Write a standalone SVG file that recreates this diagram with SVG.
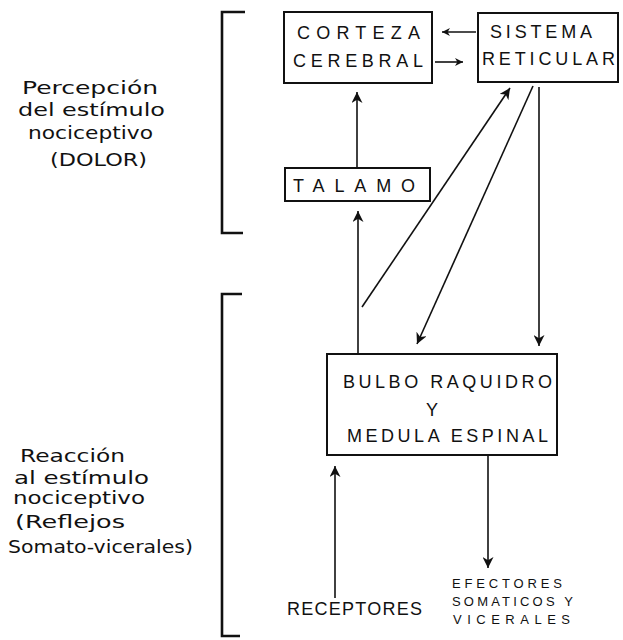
<svg xmlns="http://www.w3.org/2000/svg" width="623" height="640" viewBox="0 0 623 640">
<style>
  .box { fill: #fff; stroke: #111; stroke-width: 2; }
  .lbl { font-family: "Liberation Sans", "DejaVu Sans", sans-serif; font-size: 18px; fill: #111; }
  .side { font-family: "DejaVu Sans", "Liberation Sans", sans-serif; font-size: 17px; fill: #111; }
  .eff { font-family: "Liberation Sans", "DejaVu Sans", sans-serif; font-size: 13px; fill: #111; }
  .ln { stroke: #111; stroke-width: 1.6; fill: none; }
  .br { stroke: #111; stroke-width: 2.6; fill: none; }
</style>
<defs>
  <marker id="ah" viewBox="0 0 10 10" refX="10" refY="5" markerUnits="userSpaceOnUse" markerWidth="11" markerHeight="11" orient="auto">
    <path d="M0,0 L10,5 L0,10 L3,5 z" fill="#111"/>
  </marker>
  <marker id="ahs" viewBox="0 0 10 10" refX="10" refY="5" markerUnits="userSpaceOnUse" markerWidth="8" markerHeight="8" orient="auto">
    <path d="M0,0 L10,5 L0,10 L3,5 z" fill="#111"/>
  </marker>
</defs>

<g id="brackets">
  <path class="br" d="M245,12 H222 V233 H243"/>
  <path class="br" d="M242,294 H222 V636 H240"/>
</g>

<g id="side-labels">
  <text class="side" x="22" y="94" textLength="136" lengthAdjust="spacingAndGlyphs">Percepción</text>
  <text class="side" x="18" y="116" textLength="147" lengthAdjust="spacingAndGlyphs">del estímulo</text>
  <text class="side" x="28" y="139" textLength="125" lengthAdjust="spacingAndGlyphs">nociceptivo</text>
  <text class="side" x="50" y="166" textLength="97" lengthAdjust="spacingAndGlyphs">(DOLOR)</text>

  <text class="side" x="20" y="462" textLength="105" lengthAdjust="spacingAndGlyphs">Reacción</text>
  <text class="side" x="14" y="484" textLength="135" lengthAdjust="spacingAndGlyphs">al estímulo</text>
  <text class="side" x="13" y="504" textLength="132" lengthAdjust="spacingAndGlyphs">nociceptivo</text>
  <text class="side" x="15" y="528" textLength="110" lengthAdjust="spacingAndGlyphs">(Reflejos</text>
  <text class="side" x="8" y="553" textLength="185" lengthAdjust="spacingAndGlyphs">Somato-vicerales)</text>
</g>

<g id="corteza">
  <rect class="box" x="284" y="12" width="148" height="71"/>
  <text class="lbl" x="297" y="39" textLength="123" lengthAdjust="spacing">CORTEZA</text>
  <text class="lbl" x="293" y="67" textLength="130" lengthAdjust="spacing">CEREBRAL</text>
</g>

<g id="sistema">
  <rect class="box" x="478" y="13" width="140" height="69"/>
  <text class="lbl" x="490" y="38" textLength="102" lengthAdjust="spacing">SISTEMA</text>
  <text class="lbl" x="482" y="65" textLength="133" lengthAdjust="spacing">RETICULAR</text>
</g>

<g id="talamo">
  <rect class="box" x="285" y="168" width="145" height="33"/>
  <text class="lbl" x="293" y="192" textLength="122" lengthAdjust="spacing">TALAMO</text>
</g>

<g id="bulbo">
  <rect class="box" x="327" y="354" width="230" height="101"/>
  <text class="lbl" x="343" y="388" font-size="20" textLength="209" lengthAdjust="spacing">BULBO RAQUIDRO</text>
  <text class="lbl" x="432" y="416" text-anchor="middle">Y</text>
  <text class="lbl" x="347" y="442" textLength="201" lengthAdjust="spacing">MEDULA ESPINAL</text>
</g>

<g id="receptores">
  <text class="lbl" x="287" y="615" font-size="17" textLength="135" lengthAdjust="spacing">RECEPTORES</text>
</g>

<g id="efectores">
  <text class="eff" x="452" y="588" textLength="110" lengthAdjust="spacing">EFECTORES</text>
  <text class="eff" x="452" y="606" textLength="121" lengthAdjust="spacing">SOMATICOS Y</text>
  <text class="eff" x="453" y="624" textLength="117" lengthAdjust="spacing">VICERALES</text>
</g>

<g id="connectors">
  <line class="ln" x1="476" y1="32" x2="442" y2="32" marker-end="url(#ahs)"/>
  <line class="ln" x1="435" y1="62" x2="463" y2="62" marker-end="url(#ahs)"/>
  <line class="ln" x1="357" y1="168" x2="357" y2="92" marker-end="url(#ah)"/>
  <line class="ln" x1="358" y1="354" x2="358" y2="211" marker-end="url(#ah)"/>
  <line class="ln" x1="362" y1="307" x2="510" y2="88" marker-end="url(#ah)"/>
  <line class="ln" x1="533" y1="86" x2="417" y2="344" marker-end="url(#ah)"/>
  <line class="ln" x1="539" y1="87" x2="539" y2="346" marker-end="url(#ah)"/>
  <line class="ln" x1="335" y1="598" x2="335" y2="466" marker-end="url(#ah)"/>
  <line class="ln" x1="488" y1="456" x2="488" y2="568" marker-end="url(#ah)"/>
</g>
</svg>
